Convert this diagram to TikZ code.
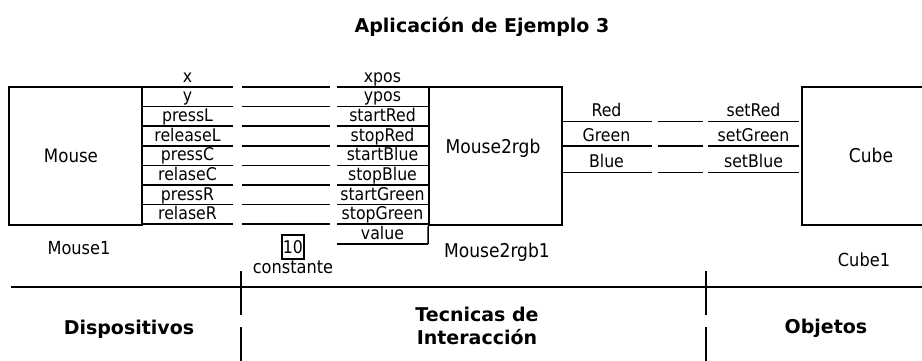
\documentclass[tikz,border=0pt]{standalone}
\usepackage{fontspec}
\setmainfont{DejaVu Sans Condensed}
\newfontfamily\headfont{DejaVu Sans}
\usetikzlibrary{positioning}

\begin{document}
\begin{tikzpicture}[
    x=1pt,y=-1pt,
    box/.style={draw,line width=1.5pt,minimum width=133pt,minimum height=138pt,inner sep=0pt},
    port/.style={minimum width=91pt,inner xsep=0pt,inner ysep=0.4pt,text depth=4pt,anchor=south,font=\fontsize{17.5}{18}\selectfont},
    wire/.style={line width=1.5pt},
    link/.style={wire,shorten <=9pt,shorten >=7pt},
    boxlbl/.style={font=\fontsize{18}{20}\selectfont},
    sechead/.style={font=\headfont\bfseries\fontsize{19}{23}\selectfont,align=center}
  ]
  \useasboundingbox (0,0) rectangle (922,361);
  \node[sechead] (title) at (482,27) {Aplicación de Ejemplo 3};

  % components
  \node[box] (mouse) at (75.5,156) {};
  \node[box] (m2r) at (495.5,156) {};
  \node[box] (cube) at (868.5,156) {};
  \node[boxlbl,font=\fontsize{18.5}{20}\selectfont] (mousetxt) at (71,156) {Mouse};
  \node[boxlbl,font=\fontsize{19}{20}\selectfont] (m2rtxt) at (493,148) {Mouse2rgb};
  \node[boxlbl,font=\fontsize{19}{20}\selectfont] (cubetxt) at (871,155) {Cube};
  \node[boxlbl] (mouse1) at (79,248) {Mouse1};
  \node[boxlbl,font=\fontsize{19}{20}\selectfont] (m2r1) at (497,252) {Mouse2rgb1};
  \node[boxlbl] (cube1) at (864,260) {Cube1};

  % ports of Mouse
  \foreach \lbl [count=\i] in {x,y,pressL,releaseL,pressC,relaseC,pressR,relaseR}{
    \node[port] (m\i) at (187.5,{87+19.6*(\i-1)}) {\lbl};
    \draw[wire] (m\i.south west) -- (m\i.south east);
  }
  % ports of Mouse2rgb
  \foreach \lbl [count=\i] in {xpos,ypos,startRed,stopRed,startBlue,stopBlue,startGreen,stopGreen,value}{
    \node[port] (r\i) at (382.5,{87+19.6*(\i-1)}) {\lbl};
    \draw[wire] (r\i.south west) -- (r\i.south east);
  }
  \draw[wire] (m2r.south west) -- (r9.south east);
  \foreach \lbl/\yy [count=\i] in {Red/121.5,Green/146,Blue/172.5}{
    \node[port] (o\i) at (606.5,\yy) {\lbl};
    \draw[wire] (o\i.south west) -- (o\i.south east);
  }
  \foreach \lbl/\yy [count=\i] in {setRed/121.5,setGreen/146,setBlue/172.5}{
    \node[port] (c\i) at (753.5,\yy) {\lbl};
    \draw[wire] (c\i.south west) -- (c\i.south east);
  }

  % connections
  \foreach \i in {1,...,8}
    \draw[link] (m\i.south east) -- (r\i.south west);
  \foreach \i in {1,2,3}
    \draw[link,shorten <=6pt,shorten >=5pt] (o\i.south east) -- (c\i.south west);

  \node[draw,line width=1.3pt,inner sep=0pt,minimum width=22pt,minimum height=24pt,font=\fontsize{17.5}{18}\selectfont] (k) at (293,247) {10};
  \node[below=0pt of k,inner sep=1pt,font=\fontsize{18}{18}\selectfont] (ktxt) {constante};

  % layers
  \coordinate (sepL) at (11,287);
  \coordinate (sepR) at (922,287);
  \draw[wire] (sepL) -- (sepR);
  \coordinate (d1) at (241,271);
  \coordinate (d1e) at (241,361);
  \coordinate (d2) at (706,271);
  \coordinate (d2e) at (706,361);
  \draw[wire,dash pattern=on 44pt off 12pt] (d1) -- (d1e);
  \draw[wire,dash pattern=on 44pt off 12pt] (d2) -- (d2e);
  \node[sechead] (dev) at (129,329) {Dispositivos};
  \node[sechead] (tec) at (477,326) {Tecnicas de\\Interacción};
  \node[sechead] (obj) at (826,328) {Objetos};
\end{tikzpicture}
\end{document}
